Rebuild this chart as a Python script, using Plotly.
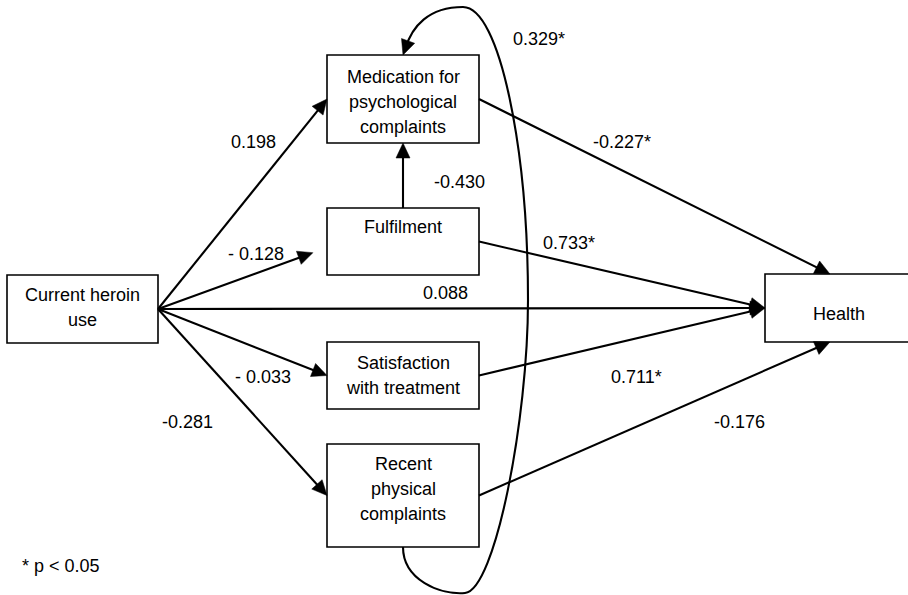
import math
import plotly.graph_objects as go

W, H = 908, 595
FONT = "Liberation Sans, Arial, sans-serif"
FS = 18
LINE_PITCH = 25
INK = "black"

# ---- model variables -------------------------------------------------------
node_ids = ["heroin", "medication", "fulfilment", "satisfaction", "physical", "health"]
node_text = [
    ["Current heroin", "use"],
    ["Medication for", "psychological", "complaints"],
    ["Fulfilment"],
    ["Satisfaction", "with treatment"],
    ["Recent", "physical", "complaints"],
    ["Health"],
]

# ---- structural paths and standardised coefficients -------------------------
edge_from = ["heroin", "heroin", "heroin", "heroin", "heroin",
             "medication", "fulfilment", "satisfaction", "physical",
             "fulfilment"]
edge_to = ["medication", "fulfilment", "health", "satisfaction", "physical",
           "health", "health", "health", "health",
           "medication"]
edge_coef = [0.198, -0.128, 0.088, -0.033, -0.281,
             -0.227, 0.733, 0.711, -0.176,
             -0.430]
edge_label = ["0.198", "- 0.128", "0.088", "- 0.033", "-0.281",
              "-0.227*", "0.733*", "0.711*", "-0.176",
              "-0.430"]

# correlation between the two complaint measures (curved arrow)
loop_from, loop_to = "physical", "medication"
loop_coef = 0.329
loop_label = "0.329*"

footnote = "* p < 0.05"

# ---- layout (pixel space) ---------------------------------------------------
node_box = {
    "heroin": (7, 275, 158, 343),
    "medication": (327, 55, 479, 143),
    "fulfilment": (327, 208, 479, 275),
    "satisfaction": (327, 342, 479, 409),
    "physical": (327, 444, 479, 547),
    "health": (765, 274, 916, 342),
}
node_text_cx = {"health": 839}
node_text_cy = {"heroin": 307, "medication": 102, "fulfilment": 227,
                "satisfaction": 375, "physical": 489, "health": 314}

# (side, fraction along side) for tail and head of every path
edge_tail = [("r", .5)] * 9 + [("t", .5)]
edge_head = [("l", .5), ("l", .59), ("l", .5), ("l", .5), ("l", .5),
             ("t", .43), ("l", .5), ("l", .5), ("b", .43), ("b", .5)]
edge_gap = [0, 15, 0, 0, 0, 0, 0, 0, 0, 0]
edge_label_xy = [(253, 142), (256, 254), (445, 293), (263, 377), (187, 422),
                 (622, 142), (569, 243), (636, 377), (739, 422), (459, 182)]
loop_label_xy = (539, 39)
footnote_xy = (20, 566)

ARROW_LEN, ARROW_HALF = 15, 7
EDGE_W, BOX_W = 2.1, 1.6


def anchor(node, side, frac):
    x0, y0, x1, y1 = node_box[node]
    if side == "l":
        return x0, y0 + frac * (y1 - y0)
    if side == "r":
        return x1, y0 + frac * (y1 - y0)
    if side == "t":
        return x0 + frac * (x1 - x0), y0
    return x0 + frac * (x1 - x0), y1


def arrowhead(tip, ux, uy):
    bx, by = tip[0] - ARROW_LEN * ux, tip[1] - ARROW_LEN * uy
    nx, ny = -uy, ux
    p1 = (bx + ARROW_HALF * nx, by + ARROW_HALF * ny)
    p2 = (bx - ARROW_HALF * nx, by - ARROW_HALF * ny)
    return dict(type="path", xref="x", yref="y",
                path=f"M {tip[0]:.2f},{tip[1]:.2f} L {p1[0]:.2f},{p1[1]:.2f} "
                     f"L {p2[0]:.2f},{p2[1]:.2f} Z",
                fillcolor=INK, line=dict(color=INK, width=0.5))


shapes, annotations = [], []

# boxes
for nid in node_ids:
    x0, y0, x1, y1 = node_box[nid]
    shapes.append(dict(type="rect", xref="x", yref="y", x0=x0, y0=y0, x1=x1, y1=y1,
                       line=dict(color=INK, width=BOX_W), fillcolor="white"))

# straight paths
for src, dst, (ts, tf), (hs, hf), gap in zip(edge_from, edge_to, edge_tail, edge_head, edge_gap):
    sx, sy = anchor(src, ts, tf)
    ex, ey = anchor(dst, hs, hf)
    d = math.hypot(ex - sx, ey - sy)
    ux, uy = (ex - sx) / d, (ey - sy) / d
    tip = (ex - gap * ux, ey - gap * uy)
    stop = (tip[0] - 0.5 * ARROW_LEN * ux, tip[1] - 0.5 * ARROW_LEN * uy)
    shapes.append(dict(type="line", xref="x", yref="y", x0=sx, y0=sy, x1=stop[0], y1=stop[1],
                       line=dict(color=INK, width=EDGE_W)))
    shapes.append(arrowhead(tip, ux, uy))

# curved correlation arrow: leaves the bottom of one box, sweeps round and
# enters the top of the other
lx, ly = anchor(loop_from, "b", .5)
tx, ty = anchor(loop_to, "t", .5)
c_last = (tx + 9, ty - 25)
dl = math.hypot(tx - c_last[0], ty - c_last[1])
lux, luy = (tx - c_last[0]) / dl, (ty - c_last[1]) / dl
lend = (tx - 0.5 * ARROW_LEN * lux, ty - 0.5 * ARROW_LEN * luy)
bottom = (lx + 62, ly + 46)
right = (lx + 125, (ly + ty) / 2 - 1)
top = (tx + 60, 7)
loop_path = (
    f"M {lx},{ly} "
    f"C {lx},{ly + 33} {lx + 37},{ly + 48} {bottom[0]},{bottom[1]} "
    f"C {bottom[0] + 30},{bottom[1] - 3} {right[0]},{right[1] + 120} {right[0]},{right[1]} "
    f"C {right[0]},{right[1] - 150} {top[0] + 37},{top[1]} {top[0]},{top[1]} "
    f"C {top[0] - 35},{top[1]} {c_last[0]},{c_last[1] - 3} {lend[0]:.2f},{lend[1]:.2f}"
)
shapes.append(dict(type="path", xref="x", yref="y", path=loop_path,
                   line=dict(color=INK, width=EDGE_W)))
shapes.append(arrowhead((tx, ty), lux, luy))


def label(text, x, y, xanchor="center"):
    annotations.append(dict(text=text, x=x, y=y, xref="x", yref="y", showarrow=False,
                            xanchor=xanchor, yanchor="middle",
                            font=dict(family=FONT, size=FS, color=INK)))


# box texts
for nid, lines in zip(node_ids, node_text):
    x0, y0, x1, y1 = node_box[nid]
    cx = node_text_cx.get(nid, (x0 + x1) / 2)
    cy = node_text_cy[nid]
    n = len(lines)
    for i, line in enumerate(lines):
        label(line, cx, cy + (i - (n - 1) / 2) * LINE_PITCH)

# coefficients
for text, (x, y) in zip(edge_label, edge_label_xy):
    label(text, x, y)
label(loop_label, *loop_label_xy)
label(footnote, *footnote_xy, xanchor="left")

fig = go.Figure()
fig.update_layout(
    width=W, height=H,
    margin=dict(l=0, r=0, t=0, b=0),
    paper_bgcolor="white", plot_bgcolor="white",
    xaxis=dict(range=[0, W], visible=False, fixedrange=True),
    yaxis=dict(range=[H, 0], visible=False, fixedrange=True),
    shapes=shapes, annotations=annotations, showlegend=False,
)
fig.write_html("out.html", config={"displayModeBar": False})
